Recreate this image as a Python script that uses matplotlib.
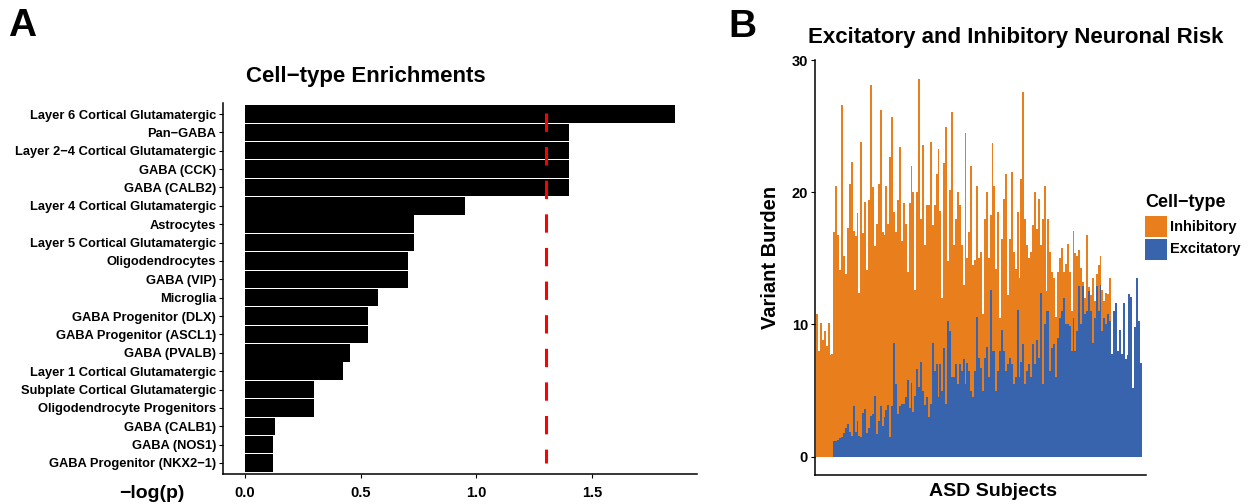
import numpy as np
import matplotlib
matplotlib.use("Agg")
import matplotlib.pyplot as plt
from matplotlib.patches import Rectangle

plt.rcParams['font.family'] = ['Liberation Sans', 'DejaVu Sans']
plt.rcParams['font.weight'] = 'bold'

# --- Panel A: enrichment per cell type (-log10 p) ---
cell_types = [
    "Layer 6 Cortical Glutamatergic", "Pan\u2212GABA", "Layer 2\u22124 Cortical Glutamatergic",
    "GABA (CCK)", "GABA (CALB2)", "Layer 4 Cortical Glutamatergic", "Astrocytes",
    "Layer 5 Cortical Glutamatergic", "Oligodendrocytes", "GABA (VIP)", "Microglia",
    "GABA Progenitor (DLX)", "GABA Progenitor (ASCL1)", "GABA (PVALB)",
    "Layer 1 Cortical Glutamatergic", "Subplate Cortical Glutamatergic",
    "Oligodendrocyte Progenitors", "GABA (CALB1)", "GABA (NOS1)", "GABA Progenitor (NKX2\u22121)",
]
enrichment = [1.86, 1.40, 1.40, 1.40, 1.40, 0.95, 0.73, 0.73, 0.705, 0.705,
              0.575, 0.53, 0.53, 0.455, 0.425, 0.30, 0.30, 0.13, 0.12, 0.12]
threshold = 1.30  # -log10(0.05)
x_ticks = [0.0, 0.5, 1.0, 1.5]

# --- Panel B: variant burden per ASD subject ---
excitatory = [
    0, 0, 0, 0, 0, 0, 0, 0, 0,
    1.2, 1.2, 1.3, 1.4, 1.5, 1.8, 2.2, 2.5, 1.9, 1.6, 3.8, 1.9, 2.7, 1.6, 1.5, 3.3,
    3.6, 1.8, 2.2, 3.1, 3.2, 4.6, 1.7, 2.7, 3.8, 2.3, 3.0, 3.5, 3.9, 1.5, 3.8, 8.6,
    5.5, 3.2, 3.8, 4.0, 4.0, 4.5, 5.8, 3.7, 5.6, 3.4, 4.6, 6.6, 5.3, 7.2, 5.0, 3.9,
    4.5, 3.0, 4.0, 8.6, 6.5, 7.0, 4.5, 7.0, 5.0, 8.2, 4.0, 10.3, 9.5, 6.0, 6.0, 7.0,
    5.5, 7.0, 6.5, 7.4, 5.5, 7.1, 6.5, 5.0, 4.5,
    6.5, 10.6, 7.5, 6.7, 5.0, 7.5, 8.3, 6.0, 12.6, 8.0, 8.0, 5.0, 6.5, 8.0, 9.6, 8.0,
    6.5, 7.0, 7.5, 7.0, 5.5, 6.0, 11.1, 6.0, 7.2, 8.5, 5.5, 6.5, 7.0, 6.0, 8.5, 7.0,
    8.8, 7.5, 12.4, 5.5, 10.0, 11.0, 11.0, 6.5, 8.2, 8.5, 6.0, 9.0, 10.5, 11.0, 12.0,
    10.0, 10.0, 9.9, 8.0, 10.5, 8.0, 9.5, 12.9, 10.0, 12.9, 10.8, 11.0, 12.5, 11.0,
    8.6, 10.5, 12.9, 11.0, 13.0, 9.5, 10.5, 10.0, 10.8, 10.3,
    7.8, 11.0, 11.6, 8.0, 9.6, 7.8, 11.6, 7.4, 7.7, 12.3, 12.1, 5.2, 9.8, 13.5, 10.3, 7.1,
]
inhibitory = [
    10.8, 8.0, 10.1, 8.8, 9.5, 8.4, 10.1, 7.7, 7.8,
    15.8, 19.3, 15.5, 12.7, 25.1, 13.4, 11.6, 14.8, 18.7, 20.7, 13.3, 14.8, 15.7, 10.8,
    22.3, 13.6, 15.7, 12.3, 17.2, 25.0, 17.2, 11.3, 15.9, 17.9, 22.4, 14.7, 13.8, 17.0,
    13.7, 21.2, 21.9, 9.9,
    11.5, 16.2, 19.6, 12.3, 15.2, 13.1, 8.2, 15.5, 16.4, 16.6, 8.0, 13.4, 23.3, 10.8,
    18.6, 12.1, 14.5, 16.0, 19.8, 8.9, 12.5, 14.4, 18.8, 11.6, 7.0, 14.0, 20.9, 4.5,
    10.7, 20.1, 10.0, 11.0, 14.5, 12.0, 9.5, 5.6, 19.0, 7.9, 10.5, 17.0, 10.0,
    8.4, 9.9, 7.5, 8.8, 5.8, 10.5, 11.7, 9.0, 5.7, 15.7, 12.5, 9.2, 12.0, 2.5, 6.9,
    11.5, 14.9, 5.2, 9.0, 14.5, 10.0, 8.2, 7.4, 7.5, 13.8, 19.1, 12.5, 9.5, 8.0, 9.5,
    9.0, 13.0, 8.4, 12.0, 3.6, 12.5, 10.5, 1.5, 7.0, 9.0, 5.8, 5.0, 4.6, 5.0, 4.5, 4.8, 2.0,
    4.6, 6.1, 4.1, 3.0, 6.6, 7.4, 5.7, 2.7, 4.3, 0.3, 1.2, 5.8, 0.3, 1.2, 4.9, 1.3,
    0.9, 3.5, 2.2, 3.1, 1.3, 2.4, 1.5, 3.2,
    0, 0, 0, 0, 0, 0, 0, 0, 0, 0, 0, 0, 0, 0, 0, 0,
]
burden_ticks = [0, 10, 20, 30]

ORANGE = '#E97E1C'
BLUE = '#3864AE'
W, H = 1253, 504

fig = plt.figure(figsize=(W / 100, H / 100), dpi=100)

# ---------------- Panel A ----------------
axA = fig.add_axes([223 / W, 1 - 474 / H, 474 / W, 371 / H])
pos = np.arange(len(cell_types))[::-1]
axA.barh(pos, enrichment, height=0.95, color='black', linewidth=0)
axA.set_ylim(-0.6, len(cell_types) - 1 + 0.6)
axA.set_xlim(-0.095, 1.954)
axA.set_yticks(pos, cell_types)
axA.set_xticks(x_ticks, [f'{t:.1f}' for t in x_ticks])
axA.plot([threshold, threshold], [0.973, 0.03], transform=axA.get_xaxis_transform(),
         color='red', lw=2.2, ls=(0, (6, 5)), dash_capstyle='butt')
for s in ['top', 'right']:
    axA.spines[s].set_visible(False)
for s in ['left', 'bottom']:
    axA.spines[s].set_linewidth(1.1)
axA.tick_params(axis='y', length=3, width=0.8, pad=2, labelsize=9.3)
axA.tick_params(axis='x', length=3, width=0.8, pad=5.5, labelsize=10.5)

fig.text(185 / W, 1 - 498 / H, '\u2212log(p)', ha='right', va='baseline', fontsize=14)
fig.text(366 / W, 1 - 82 / H, 'Cell\u2212type Enrichments', ha='center', va='baseline', fontsize=16)
fig.text(8 / W, 1 - 36 / H, 'A', ha='left', va='baseline', fontsize=28)

# ---------------- Panel B ----------------
axB = fig.add_axes([815 / W, 1 - 475 / H, 331 / W, 415 / H])
subj = np.arange(len(excitatory))
exc = np.array(excitatory)
inh = np.array(inhibitory)
axB.bar(subj, exc, width=1.0, color=BLUE, linewidth=0)
axB.bar(subj, inh, bottom=exc, width=1.0, color=ORANGE, linewidth=0)
axB.set_xlim(-1.02, len(subj) + 1.6)
axB.set_ylim(-1.38, 30)
axB.set_xticks([])
axB.set_yticks(burden_ticks)
for s in ['top', 'right']:
    axB.spines[s].set_visible(False)
for s in ['left', 'bottom']:
    axB.spines[s].set_linewidth(1.1)
axB.tick_params(axis='y', length=3, width=0.8, pad=2, labelsize=10.5)

# legend (drawn by hand to get the ggplot key look)
legend_items = [('Inhibitory', ORANGE), ('Excitatory', BLUE)]
fig.text(1145 / W, 1 - 207 / H, 'Cell\u2212type', ha='left', va='baseline', fontsize=13)
for i, (lab, col) in enumerate(legend_items):
    top = 216 + i * 23
    fig.add_artist(Rectangle((1145 / W, 1 - (top + 21) / H), 22 / W, 21 / H,
                             transform=fig.transFigure, facecolor=col, edgecolor='none'))
    fig.text(1170 / W, 1 - (top + 10.5) / H, lab, ha='left', va='center', fontsize=10.5)

fig.text(771 / W, 1 - 257 / H, 'Variant Burden', rotation=90, ha='center', va='center', fontsize=14.5)
fig.text(993 / W, 1 - 496 / H, 'ASD Subjects', ha='center', va='baseline', fontsize=14)
fig.text(1016 / W, 1 - 43 / H, 'Excitatory and Inhibitory Neuronal Risk', ha='center',
         va='baseline', fontsize=16)
fig.text(728 / W, 1 - 37 / H, 'B', ha='left', va='baseline', fontsize=28)

fig.savefig('out.png', dpi=100)
